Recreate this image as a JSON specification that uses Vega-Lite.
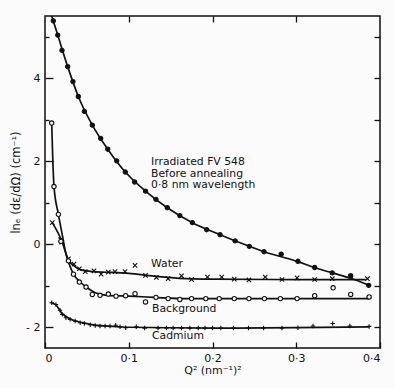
{
  "$schema": "https://vega.github.io/schema/vega-lite/v6.json",
  "width": 335,
  "height": 332,
  "autosize": "none",
  "padding": {"left": 45, "top": 16, "right": 14, "bottom": 40},
  "background": "#fbfbfb",
  "config": {
    "view": {"stroke": "#111", "strokeWidth": 1.5},
    "font": "DejaVu Sans",
    "axis": {"domain": false, "grid": false, "tickColor": "#111", "tickWidth": 1.3, "labelColor": "#111", "titleColor": "#111", "labelFont": "DejaVu Sans", "titleFont": "DejaVu Sans", "labelFontSize": 11, "titleFontSize": 11, "titleFontWeight": "normal"}
  },
  "datasets": {
    "curves": [
      {"series": "Irradiated", "x": 0.008, "y": 5.5},
      {"series": "Irradiated", "x": 0.0152, "y": 5.04},
      {"series": "Irradiated", "x": 0.0271, "y": 4.28},
      {"series": "Irradiated", "x": 0.0398, "y": 3.56},
      {"series": "Irradiated", "x": 0.0565, "y": 2.87},
      {"series": "Irradiated", "x": 0.0749, "y": 2.29},
      {"series": "Irradiated", "x": 0.0959, "y": 1.74},
      {"series": "Irradiated", "x": 0.12, "y": 1.28},
      {"series": "Irradiated", "x": 0.146, "y": 0.88},
      {"series": "Irradiated", "x": 0.176, "y": 0.52},
      {"series": "Irradiated", "x": 0.209, "y": 0.23},
      {"series": "Irradiated", "x": 0.244, "y": -0.05},
      {"series": "Irradiated", "x": 0.2615, "y": -0.18},
      {"series": "Irradiated", "x": 0.282, "y": -0.3},
      {"series": "Irradiated", "x": 0.302, "y": -0.42},
      {"series": "Irradiated", "x": 0.322, "y": -0.56},
      {"series": "Irradiated", "x": 0.343, "y": -0.69},
      {"series": "Irradiated", "x": 0.365, "y": -0.82},
      {"series": "Irradiated", "x": 0.387, "y": -0.99},
      {"series": "Water", "x": 0.0087, "y": 0.52},
      {"series": "Water", "x": 0.02, "y": 0.08},
      {"series": "Water", "x": 0.028, "y": -0.38},
      {"series": "Water", "x": 0.034, "y": -0.51},
      {"series": "Water", "x": 0.042, "y": -0.61},
      {"series": "Water", "x": 0.058, "y": -0.66},
      {"series": "Water", "x": 0.08, "y": -0.68},
      {"series": "Water", "x": 0.1, "y": -0.70},
      {"series": "Water", "x": 0.13, "y": -0.77},
      {"series": "Water", "x": 0.16, "y": -0.82},
      {"series": "Water", "x": 0.2, "y": -0.84},
      {"series": "Water", "x": 0.3, "y": -0.85},
      {"series": "Water", "x": 0.383, "y": -0.85},
      {"series": "Background", "x": 0.008, "y": 2.92},
      {"series": "Background", "x": 0.0107, "y": 1.4},
      {"series": "Background", "x": 0.016, "y": 0.72},
      {"series": "Background", "x": 0.021, "y": 0.19},
      {"series": "Background", "x": 0.024, "y": -0.14},
      {"series": "Background", "x": 0.028, "y": -0.43},
      {"series": "Background", "x": 0.034, "y": -0.72},
      {"series": "Background", "x": 0.042, "y": -0.91},
      {"series": "Background", "x": 0.05, "y": -1.04},
      {"series": "Background", "x": 0.06, "y": -1.17},
      {"series": "Background", "x": 0.074, "y": -1.23},
      {"series": "Background", "x": 0.1, "y": -1.25},
      {"series": "Background", "x": 0.13, "y": -1.28},
      {"series": "Background", "x": 0.17, "y": -1.31},
      {"series": "Background", "x": 0.3, "y": -1.31},
      {"series": "Background", "x": 0.387, "y": -1.31},
      {"series": "Cadmium", "x": 0.007, "y": -1.41},
      {"series": "Cadmium", "x": 0.013, "y": -1.46},
      {"series": "Cadmium", "x": 0.02, "y": -1.66},
      {"series": "Cadmium", "x": 0.03, "y": -1.80},
      {"series": "Cadmium", "x": 0.045, "y": -1.89},
      {"series": "Cadmium", "x": 0.06, "y": -1.95},
      {"series": "Cadmium", "x": 0.08, "y": -1.98},
      {"series": "Cadmium", "x": 0.1, "y": -2.0},
      {"series": "Cadmium", "x": 0.2, "y": -2.02},
      {"series": "Cadmium", "x": 0.3, "y": -2.01},
      {"series": "Cadmium", "x": 0.387, "y": -1.99}
    ],
    "points": [
      {"series": "Irradiated", "x": 0.0099, "y": 5.38},
      {"series": "Irradiated", "x": 0.0152, "y": 5.04},
      {"series": "Irradiated", "x": 0.0203, "y": 4.67},
      {"series": "Irradiated", "x": 0.0271, "y": 4.28},
      {"series": "Irradiated", "x": 0.0334, "y": 3.92},
      {"series": "Irradiated", "x": 0.0398, "y": 3.56},
      {"series": "Irradiated", "x": 0.047, "y": 3.2},
      {"series": "Irradiated", "x": 0.0565, "y": 2.87},
      {"series": "Irradiated", "x": 0.0665, "y": 2.55},
      {"series": "Irradiated", "x": 0.0749, "y": 2.29},
      {"series": "Irradiated", "x": 0.0856, "y": 2.01},
      {"series": "Irradiated", "x": 0.0959, "y": 1.74},
      {"series": "Irradiated", "x": 0.107, "y": 1.5},
      {"series": "Irradiated", "x": 0.12, "y": 1.28},
      {"series": "Irradiated", "x": 0.1325, "y": 1.08},
      {"series": "Irradiated", "x": 0.146, "y": 0.88},
      {"series": "Irradiated", "x": 0.161, "y": 0.69},
      {"series": "Irradiated", "x": 0.176, "y": 0.52},
      {"series": "Irradiated", "x": 0.193, "y": 0.35},
      {"series": "Irradiated", "x": 0.209, "y": 0.23},
      {"series": "Irradiated", "x": 0.227, "y": 0.08},
      {"series": "Irradiated", "x": 0.244, "y": -0.05},
      {"series": "Irradiated", "x": 0.2615, "y": -0.18},
      {"series": "Irradiated", "x": 0.282, "y": -0.24},
      {"series": "Irradiated", "x": 0.302, "y": -0.41},
      {"series": "Irradiated", "x": 0.322, "y": -0.56},
      {"series": "Irradiated", "x": 0.343, "y": -0.69},
      {"series": "Irradiated", "x": 0.365, "y": -0.76},
      {"series": "Irradiated", "x": 0.3865, "y": -0.99},
      {"series": "Water", "x": 0.0087, "y": 0.52},
      {"series": "Water", "x": 0.0187, "y": 0.11},
      {"series": "Water", "x": 0.02, "y": 0.05},
      {"series": "Water", "x": 0.028, "y": -0.35},
      {"series": "Water", "x": 0.0346, "y": -0.48},
      {"series": "Water", "x": 0.041, "y": -0.59},
      {"series": "Water", "x": 0.048, "y": -0.66},
      {"series": "Water", "x": 0.0585, "y": -0.64},
      {"series": "Water", "x": 0.067, "y": -0.72},
      {"series": "Water", "x": 0.0756, "y": -0.67},
      {"series": "Water", "x": 0.0836, "y": -0.66},
      {"series": "Water", "x": 0.0955, "y": -0.66},
      {"series": "Water", "x": 0.12, "y": -0.75},
      {"series": "Water", "x": 0.133, "y": -0.8},
      {"series": "Water", "x": 0.147, "y": -0.83},
      {"series": "Water", "x": 0.163, "y": -0.76},
      {"series": "Water", "x": 0.175, "y": -0.85},
      {"series": "Water", "x": 0.194, "y": -0.79},
      {"series": "Water", "x": 0.211, "y": -0.79},
      {"series": "Water", "x": 0.226, "y": -0.84},
      {"series": "Water", "x": 0.2435, "y": -0.86},
      {"series": "Water", "x": 0.263, "y": -0.79},
      {"series": "Water", "x": 0.283, "y": -0.85},
      {"series": "Water", "x": 0.301, "y": -0.81},
      {"series": "Water", "x": 0.322, "y": -0.85},
      {"series": "Water", "x": 0.343, "y": -0.83},
      {"series": "Water", "x": 0.365, "y": -0.77},
      {"series": "Water", "x": 0.385, "y": -0.83},
      {"series": "Water", "x": 0.1075, "y": -0.51},
      {"series": "Background", "x": 0.008, "y": 2.92},
      {"series": "Background", "x": 0.0107, "y": 1.39},
      {"series": "Background", "x": 0.016, "y": 0.72},
      {"series": "Background", "x": 0.019, "y": 0.07},
      {"series": "Background", "x": 0.028, "y": -0.4},
      {"series": "Background", "x": 0.034, "y": -0.72},
      {"series": "Background", "x": 0.041, "y": -0.91},
      {"series": "Background", "x": 0.049, "y": -1.03},
      {"series": "Background", "x": 0.0565, "y": -1.21},
      {"series": "Background", "x": 0.0657, "y": -1.23},
      {"series": "Background", "x": 0.0756, "y": -1.2},
      {"series": "Background", "x": 0.0848, "y": -1.25},
      {"series": "Background", "x": 0.0963, "y": -1.24},
      {"series": "Background", "x": 0.1075, "y": -1.19},
      {"series": "Background", "x": 0.12, "y": -1.39},
      {"series": "Background", "x": 0.1325, "y": -1.28},
      {"series": "Background", "x": 0.147, "y": -1.31},
      {"series": "Background", "x": 0.161, "y": -1.33},
      {"series": "Background", "x": 0.175, "y": -1.31},
      {"series": "Background", "x": 0.192, "y": -1.31},
      {"series": "Background", "x": 0.208, "y": -1.31},
      {"series": "Background", "x": 0.226, "y": -1.31},
      {"series": "Background", "x": 0.2435, "y": -1.31},
      {"series": "Background", "x": 0.262, "y": -1.31},
      {"series": "Background", "x": 0.281, "y": -1.31},
      {"series": "Background", "x": 0.301, "y": -1.31},
      {"series": "Background", "x": 0.322, "y": -1.24},
      {"series": "Background", "x": 0.344, "y": -1.05},
      {"series": "Background", "x": 0.365, "y": -1.21},
      {"series": "Background", "x": 0.387, "y": -1.27},
      {"series": "Cadmium", "x": 0.008, "y": -1.41},
      {"series": "Cadmium", "x": 0.013, "y": -1.45},
      {"series": "Cadmium", "x": 0.018, "y": -1.59},
      {"series": "Cadmium", "x": 0.0207, "y": -1.69},
      {"series": "Cadmium", "x": 0.025, "y": -1.77},
      {"series": "Cadmium", "x": 0.03, "y": -1.81},
      {"series": "Cadmium", "x": 0.036, "y": -1.85},
      {"series": "Cadmium", "x": 0.042, "y": -1.89},
      {"series": "Cadmium", "x": 0.047, "y": -1.91},
      {"series": "Cadmium", "x": 0.054, "y": -1.94},
      {"series": "Cadmium", "x": 0.06, "y": -1.96},
      {"series": "Cadmium", "x": 0.0657, "y": -1.97},
      {"series": "Cadmium", "x": 0.0717, "y": -1.97},
      {"series": "Cadmium", "x": 0.0776, "y": -1.97},
      {"series": "Cadmium", "x": 0.0844, "y": -1.95},
      {"series": "Cadmium", "x": 0.0896, "y": -1.99},
      {"series": "Cadmium", "x": 0.0963, "y": -2.01},
      {"series": "Cadmium", "x": 0.109, "y": -1.99},
      {"series": "Cadmium", "x": 0.119, "y": -2.02},
      {"series": "Cadmium", "x": 0.135, "y": -2.02},
      {"series": "Cadmium", "x": 0.145, "y": -2.02},
      {"series": "Cadmium", "x": 0.153, "y": -2.02},
      {"series": "Cadmium", "x": 0.163, "y": -2.02},
      {"series": "Cadmium", "x": 0.173, "y": -2.02},
      {"series": "Cadmium", "x": 0.183, "y": -2.02},
      {"series": "Cadmium", "x": 0.191, "y": -2.02},
      {"series": "Cadmium", "x": 0.2, "y": -2.02},
      {"series": "Cadmium", "x": 0.21, "y": -2.02},
      {"series": "Cadmium", "x": 0.225, "y": -2.02},
      {"series": "Cadmium", "x": 0.243, "y": -2.02},
      {"series": "Cadmium", "x": 0.261, "y": -2.02},
      {"series": "Cadmium", "x": 0.283, "y": -2.02},
      {"series": "Cadmium", "x": 0.302, "y": -2.01},
      {"series": "Cadmium", "x": 0.32, "y": -1.97},
      {"series": "Cadmium", "x": 0.3435, "y": -1.91},
      {"series": "Cadmium", "x": 0.364, "y": -1.97},
      {"series": "Cadmium", "x": 0.387, "y": -1.98}
    ],
    "labels": [
      {"x": 0.1266, "y": 1.98, "text": "Irradiated FV 548"},
      {"x": 0.1266, "y": 1.7, "text": "Before annealing"},
      {"x": 0.1266, "y": 1.42, "text": "0·8 nm wavelength"},
      {"x": 0.1266, "y": -0.48, "text": "Water"},
      {"x": 0.1278, "y": -1.57, "text": "Background"},
      {"x": 0.1278, "y": -2.22, "text": "Cadmium"}
    ]
  },
  "resolve": {"axis": {"x": "independent", "y": "independent"}},
  "layer": [
    {
      "data": {"name": "curves"},
      "mark": {"type": "line", "interpolate": "monotone", "color": "#111", "strokeWidth": 1.7},
      "encoding": {
        "x": {"field": "x", "type": "quantitative", "scale": {"domain": [0, 0.4], "nice": false, "zero": false},
          "axis": {"orient": "bottom", "values": [0, 0.1, 0.2, 0.3, 0.4], "tickSize": -6, "labelPadding": 10, "title": "Q² (nm⁻¹)²", "titlePadding": 1,
            "labelExpr": "datum.value == 0 ? '0' : replace(format(datum.value, '.1f'), '.', '·')"}},
        "y": {"field": "y", "type": "quantitative", "scale": {"domain": [-2.5, 5.5], "nice": false, "zero": false},
          "axis": {"orient": "left", "values": [-2, 0, 2, 4], "tickSize": -8, "labelPadding": 13, "title": "lnₑ (dε/dΩ) (cm⁻¹)", "titlePadding": 4, "titleFontSize": 11.5,
            "labelExpr": "datum.value < 0 ? '- ' + abs(datum.value) : datum.label"}},
        "detail": {"field": "series", "type": "nominal"},
        "order": {"field": "x", "type": "quantitative"}
      }
    },
    {
      "data": {"name": "points"},
      "mark": {"type": "point", "stroke": "#111", "strokeWidth": 1.1, "opacity": 1},
      "encoding": {
        "x": {"field": "x", "type": "quantitative",
          "axis": {"orient": "top", "values": [0.1, 0.2, 0.3], "tickSize": -6, "labels": false, "title": null}},
        "y": {"field": "y", "type": "quantitative",
          "axis": {"orient": "right", "values": [-2, -1, 0, 1, 2, 3, 4, 5], "tickSize": -6, "labels": false, "title": null}},
        "shape": {"field": "series", "type": "nominal", "legend": null,
          "scale": {"domain": ["Irradiated", "Background", "Water", "Cadmium"], "range": ["circle", "circle", "M-1,-1L1,1M-1,1L1,-1", "M-1,0L1,0M0,-1L0,1"]}},
        "fill": {"field": "series", "type": "nominal", "legend": null,
          "scale": {"domain": ["Irradiated", "Background", "Water", "Cadmium"], "range": ["#111", "#fbfbfb", "transparent", "transparent"]}},
        "size": {"field": "series", "type": "nominal", "legend": null,
          "scale": {"domain": ["Irradiated", "Background", "Water", "Cadmium"], "range": [18, 20, 30, 30]}}
      }
    },
    {
      "data": {"name": "labels"},
      "mark": {"type": "text", "align": "left", "baseline": "middle", "fontSize": 10.8, "color": "#111", "font": "DejaVu Sans"},
      "encoding": {
        "x": {"field": "x", "type": "quantitative", "axis": null},
        "y": {"field": "y", "type": "quantitative",
          "axis": {"orient": "left", "values": [-1, 1, 3, 5], "tickSize": -4, "labels": false, "title": null}},
        "text": {"field": "text"}
      }
    }
  ]
}
